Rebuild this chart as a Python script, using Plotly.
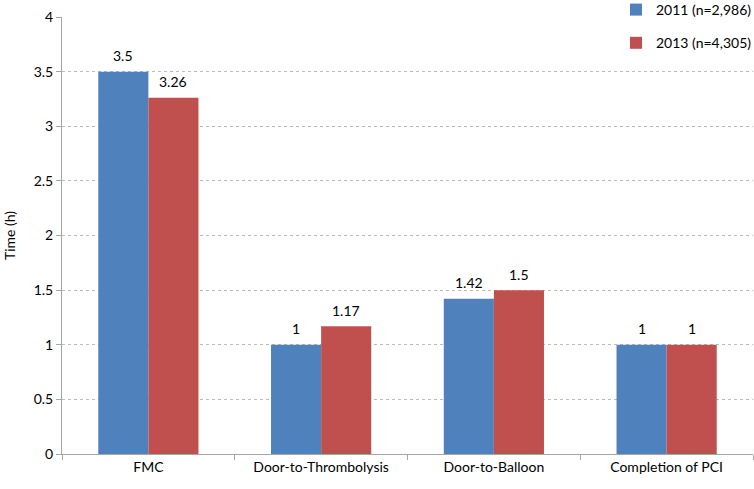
import plotly.graph_objects as go

categories = ["FMC", "Door-to-Thrombolysis", "Door-to-Balloon", "Completion of PCI"]
values_2011 = [3.5, 1, 1.42, 1]
values_2013 = [3.26, 1.17, 1.5, 1]
labels_2011 = ["3.5", "1", "1.42", "1"]
labels_2013 = ["3.26", "1.17", "1.5", "1"]
series_names = ["2011 (n=2,986)", "2013 (n=4,305)"]
y_ticks = [0, 0.5, 1, 1.5, 2, 2.5, 3, 3.5, 4]
y_tick_labels = ["0", "0.5", "1", "1.5", "2", "2.5", "3", "3.5", "4"]

FONT = "Lato, 'Noto Sans', sans-serif"
FS = 14
BLUE = "#4F81BD"
RED = "#C0504D"

fig = go.Figure()
fig.add_trace(go.Bar(
    x=categories, y=values_2011, name=series_names[0],
    marker=dict(color=BLUE, line=dict(width=0)),
    offsetgroup="a", legendgroup="a",
))
fig.add_trace(go.Bar(
    x=categories, y=values_2013, name=series_names[1],
    marker=dict(color=RED, line=dict(width=0)),
    offsetgroup="b", legendgroup="b",
))

# data labels above bars (offset by a quarter of the category per series)
annotations = []
for i, cat in enumerate(categories):
    for vals, labs, shift in ((values_2011, labels_2011, -25), (values_2013, labels_2013, 25)):
        annotations.append(dict(
            x=cat, y=vals[i], text=labs[i], showarrow=False,
            xref="x", yref="y", xshift=shift, yshift=16,
            font=dict(size=FS, family=FONT, color="#000000"),
        ))

fig.update_layout(
    width=754, height=489,
    margin=dict(l=62, r=1, t=17, b=35, autoexpand=False),
    paper_bgcolor="white", plot_bgcolor="white",
    font=dict(family=FONT, size=FS, color="#000000"),
    barmode="group", bargap=0.42, bargroupgap=0,
    showlegend=True,
    annotations=annotations,
    legend=dict(
        x=0.8017, xanchor="left", y=1 + 23 / 437, yanchor="top",
        bgcolor="rgba(0,0,0,0)", tracegroupgap=12,
        font=dict(size=FS, family=FONT),
        itemwidth=30,
    ),
    xaxis=dict(
        showline=True, linecolor="#A6A6A6", linewidth=1,
        ticks="outside", tickson="boundaries", ticklen=5, tickcolor="#A6A6A6",
        tickfont=dict(size=FS, family=FONT),
        showgrid=False,
    ),
    yaxis=dict(
        range=[0, 4], tickvals=y_ticks, ticktext=y_tick_labels,
        showline=True, linecolor="#A6A6A6", linewidth=1,
        ticks="outside", ticklen=5, tickcolor="#A6A6A6",
        showgrid=True, gridcolor="#BBBBBB", griddash="dot", gridwidth=1,
        zeroline=False,
        title=dict(text="Time (h)", font=dict(size=FS, family=FONT), standoff=14),
        tickfont=dict(size=FS, family=FONT),
    ),
)

fig.write_html("out.html", config={"displayModeBar": False},
               post_script="document.body.style.margin='0';")
